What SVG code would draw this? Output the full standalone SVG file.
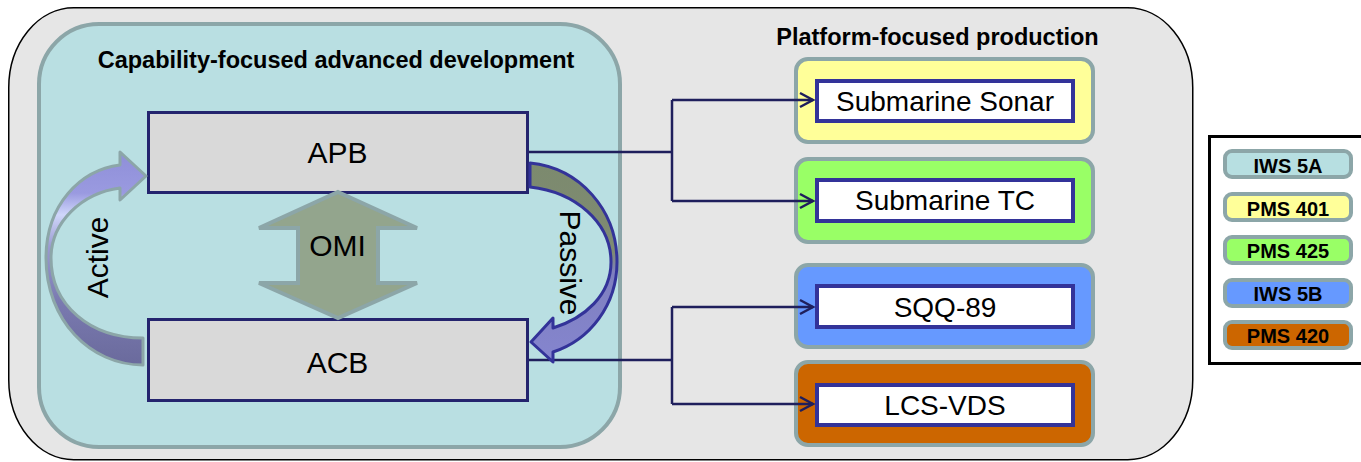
<svg xmlns="http://www.w3.org/2000/svg" width="1361" height="462" viewBox="0 0 1361 462">
<style>
text{font-family:"Liberation Sans",Arial,sans-serif;fill:#000}
.title{font-size:23.5px;font-weight:bold;text-anchor:middle}
.big{font-size:30px;text-anchor:middle}
.lbl{font-size:28px;text-anchor:middle}
.leg{font-size:20px;font-weight:bold;text-anchor:middle}
.cap{stroke:#8ca6a8;stroke-width:4}
.wbox{fill:#fff;stroke:#333399;stroke-width:4}
.gbox{fill:#d9d9d9;stroke:#24246e;stroke-width:3}
.conn{fill:none;stroke:#1f1f5c;stroke-width:2.5}
</style>
<defs>
<marker id="chev" markerUnits="userSpaceOnUse" markerWidth="18" markerHeight="18" refX="14" refY="8" orient="auto" overflow="visible">
<path d="M1,1 L14,8 L1,15" fill="none" stroke="#1f1f5c" stroke-width="2.5"/>
</marker>
<linearGradient id="gActive" gradientUnits="userSpaceOnUse" x1="0" y1="150" x2="0" y2="366">
<stop offset="0" stop-color="#8e8ed8"/>
<stop offset="0.2" stop-color="#9a9ae0"/>
<stop offset="0.3" stop-color="#cfd6fa"/>
<stop offset="0.45" stop-color="#9a9ad0"/>
<stop offset="0.7" stop-color="#7a7ab0"/>
<stop offset="1" stop-color="#6a6a9c"/>
</linearGradient>
<linearGradient id="gPassive" gradientUnits="userSpaceOnUse" x1="0" y1="163" x2="0" y2="362">
<stop offset="0" stop-color="#7c8a6e"/>
<stop offset="0.45" stop-color="#7f8b73"/>
<stop offset="0.55" stop-color="#7f80bf"/>
<stop offset="1" stop-color="#8585cf"/>
</linearGradient>
</defs>

<g id="production-area">
<rect x="8.75" y="7.75" width="1184" height="452" rx="65" ry="80" fill="#e6e6e6" stroke="#000" stroke-width="1.5"/>
<text class="title" x="937.5" y="45">Platform-focused production</text>
</g>

<g id="development-area">
<rect x="39" y="24" width="581" height="423" rx="60" ry="60" fill="#b9dfe2" class="cap"/>
<text class="title" x="336" y="68">Capability-focused advanced development</text>
</g>

<g id="apb">
<rect class="gbox" x="148.5" y="112.5" width="379" height="80"/>
<text class="big" x="337.5" y="163">APB</text>
</g>

<g id="acb">
<rect class="gbox" x="148.5" y="319.5" width="379" height="81"/>
<text class="big" x="337.5" y="373">ACB</text>
</g>

<g id="submarine-sonar">
<rect x="796" y="59" width="297" height="83" rx="12" fill="#ffff99" class="cap"/>
<rect class="wbox" x="817" y="81" width="256" height="40"/>
<text class="lbl" x="945" y="111">Submarine Sonar</text>
</g>

<g id="submarine-tc">
<rect x="796" y="159" width="297" height="83" rx="12" fill="#99ff66" class="cap"/>
<rect class="wbox" x="817" y="180" width="256" height="41"/>
<text class="lbl" x="945" y="210">Submarine TC</text>
</g>

<g id="sqq-89">
<rect x="796" y="265" width="297" height="82" rx="12" fill="#6699ff" class="cap"/>
<rect class="wbox" x="817" y="286" width="256" height="41"/>
<text class="lbl" x="945" y="317">SQQ-89</text>
</g>

<g id="lcs-vds">
<rect x="796" y="362" width="297" height="83" rx="12" fill="#cc6600" class="cap"/>
<rect class="wbox" x="817" y="385" width="256" height="40"/>
<text class="lbl" x="945" y="415">LCS-VDS</text>
</g>

<g id="connectors">
<path class="conn" d="M529,152 H672"/>
<path class="conn" d="M672,100 V201"/>
<path class="conn" d="M672,100 H813" marker-end="url(#chev)"/>
<path class="conn" d="M672,201 H813" marker-end="url(#chev)"/>
<path class="conn" d="M529,360 H672"/>
<path class="conn" d="M672,307 V404"/>
<path class="conn" d="M672,307 H813" marker-end="url(#chev)"/>
<path class="conn" d="M672,404 H813" marker-end="url(#chev)"/>
</g>

<g id="omi">
<polygon points="338,192 417,228 378,228 378,283 417,283 338,318 259,283 298,283 298,228 259,228" fill="#93a58d" stroke="#8ca6a8" stroke-width="4" stroke-linejoin="miter"/>
<text class="big" x="337.5" y="256">OMI</text>
</g>

<g id="active-arrow">
<path d="M143,365 C90,365 46,320 46,258 C46,205 80,170 120,165 L120,152 L146,176 L120,200 L120,188 C82,193 51,222 51,258 C51,305 90,338 143,338 Z" fill="url(#gActive)" stroke="#8ca6a8" stroke-width="3" stroke-linejoin="round"/>
<text class="big" transform="translate(108,257.5) rotate(-90)" x="0" y="0">Active</text>
</g>

<g id="passive-arrow">
<path d="M530,163 C580,168 617,210 617,262 C617,305 590,340 553,352 L553,362 L531,342 L553,318 L553,328 C585,318 611,295 611,262 C611,222 575,192 530,187 Z" fill="url(#gPassive)" stroke="#333399" stroke-width="3" stroke-linejoin="round"/>
<text class="big" transform="translate(560,263) rotate(90)" x="0" y="0">Passive</text>
</g>

<g id="legend">
<rect x="1209.5" y="136.5" width="200" height="227" fill="#fff" stroke="#000" stroke-width="3"/>
<g id="legend-iws5a"><rect x="1225" y="151" width="126" height="26" rx="7" fill="#b7dfe1" class="cap"/><text class="leg" x="1288" y="173">IWS 5A</text></g>
<g id="legend-pms401"><rect x="1225" y="194" width="126" height="26" rx="7" fill="#ffff99" class="cap"/><text class="leg" x="1288" y="216">PMS 401</text></g>
<g id="legend-pms425"><rect x="1225" y="237" width="126" height="26" rx="7" fill="#99ff66" class="cap"/><text class="leg" x="1288" y="258">PMS 425</text></g>
<g id="legend-iws5b"><rect x="1225" y="280" width="126" height="26" rx="7" fill="#6699ff" class="cap"/><text class="leg" x="1288" y="301">IWS 5B</text></g>
<g id="legend-pms420"><rect x="1225" y="322" width="126" height="26" rx="7" fill="#cc6600" class="cap"/><text class="leg" x="1288" y="343">PMS 420</text></g>
</g>
</svg>
